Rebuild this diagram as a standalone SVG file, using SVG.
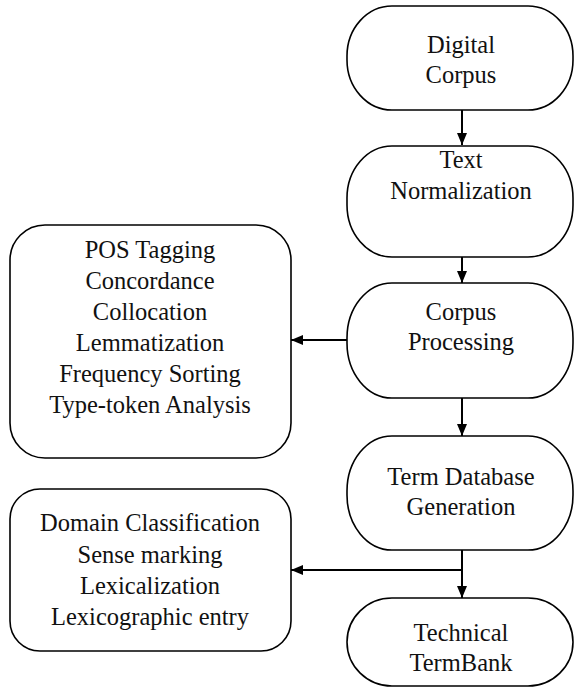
<svg xmlns="http://www.w3.org/2000/svg" width="575" height="689" viewBox="0 0 575 689">
  <style>
    .box { fill: #ffffff; stroke: #000000; stroke-width: 1.6; }
    .lbl { font-family: 'Liberation Serif', 'Times New Roman', serif; font-size: 24.5px; fill: #111111; text-anchor: middle; }
    .link { fill: none; stroke: #000000; stroke-width: 2; }
  </style>
  <defs>
    <!-- filled triangular arrowhead shared by all connectors -->
    <marker id="arrow" viewBox="0 0 12 10" refX="12" refY="5" markerWidth="12" markerHeight="10" markerUnits="userSpaceOnUse" orient="auto">
      <path d="M0,0 L12,5 L0,10 Z" fill="#000000"/>
    </marker>
  </defs>
  <rect width="575" height="689" fill="#ffffff"/>

  <g id="connectors">
    <line class="link" x1="462" y1="110" x2="462" y2="145" marker-end="url(#arrow)"/>
    <line class="link" x1="462" y1="257" x2="462" y2="283" marker-end="url(#arrow)"/>
    <line class="link" x1="347" y1="340" x2="291" y2="340" marker-end="url(#arrow)"/>
    <line class="link" x1="462" y1="398" x2="462" y2="436" marker-end="url(#arrow)"/>
    <line class="link" x1="462" y1="550" x2="462" y2="598" marker-end="url(#arrow)"/>
    <line class="link" x1="463" y1="570" x2="291" y2="570" marker-end="url(#arrow)"/>
  </g>

  <g id="digital-corpus">
    <rect class="box" x="347" y="6" width="226" height="104" rx="45" ry="50"/>
    <text class="lbl" x="461" y="53">Digital</text>
    <text class="lbl" x="461" y="83">Corpus</text>
  </g>

  <g id="text-normalization">
    <rect class="box" x="347" y="146" width="226" height="111" rx="45" ry="52"/>
    <text class="lbl" x="461" y="168">Text</text>
    <text class="lbl" x="461" y="199">Normalization</text>
  </g>

  <g id="corpus-processing">
    <rect class="box" x="347" y="283" width="226" height="115" rx="45" ry="55"/>
    <text class="lbl" x="461" y="320">Corpus</text>
    <text class="lbl" x="461" y="350">Processing</text>
  </g>

  <g id="term-database">
    <rect class="box" x="347" y="436" width="226" height="114" rx="45" ry="55"/>
    <text class="lbl" x="461" y="485">Term Database</text>
    <text class="lbl" x="461" y="515">Generation</text>
  </g>

  <g id="technical-termbank">
    <rect class="box" x="347" y="598" width="226" height="88" rx="45" ry="44"/>
    <text class="lbl" x="461" y="641">Technical</text>
    <text class="lbl" x="461" y="671">TermBank</text>
  </g>

  <g id="processing-tasks">
    <rect class="box" x="10" y="225" width="281" height="233" rx="35" ry="35"/>
    <text class="lbl" x="150" y="258">POS Tagging</text>
    <text class="lbl" x="150" y="289">Concordance</text>
    <text class="lbl" x="150" y="320">Collocation</text>
    <text class="lbl" x="150" y="351">Lemmatization</text>
    <text class="lbl" x="150" y="382">Frequency Sorting</text>
    <text class="lbl" x="150" y="413">Type-token Analysis</text>
  </g>

  <g id="entry-tasks">
    <rect class="box" x="10" y="489" width="281" height="162" rx="30" ry="30"/>
    <text class="lbl" x="150" y="531">Domain Classification</text>
    <text class="lbl" x="150" y="563">Sense marking</text>
    <text class="lbl" x="150" y="594">Lexicalization</text>
    <text class="lbl" x="150" y="625">Lexicographic entry</text>
  </g>
</svg>
